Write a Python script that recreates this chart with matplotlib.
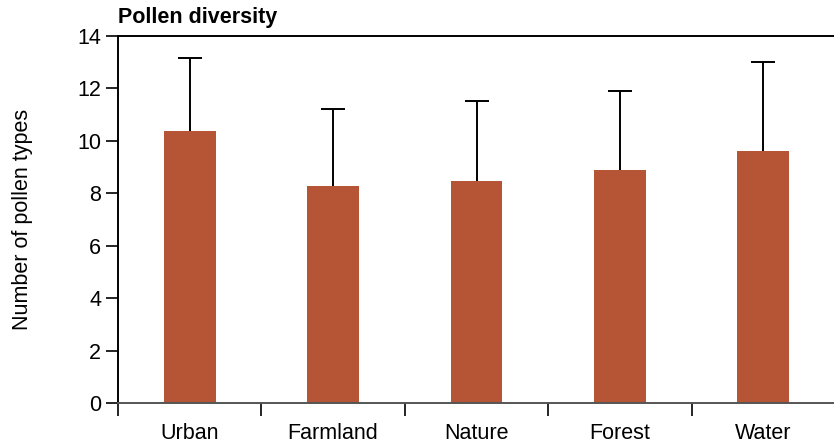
import numpy as np
import matplotlib.pyplot as plt

plt.rcParams['font.family'] = ['Liberation Sans', 'DejaVu Sans']

# mean number of pollen types per land use, and the upper error (sd)
categories = ['Urban', 'Farmland', 'Nature', 'Forest', 'Water']
means = [10.38, 8.28, 8.47, 8.89, 9.62]
errors = [2.78, 2.94, 3.05, 3.01, 3.39]

fig = plt.figure(figsize=(8.34, 4.46), dpi=100)
ax = fig.add_axes([118/834, 1 - 403.3/446, 717/834, (403.3 - 36)/446])

x = np.arange(len(categories))
ax.bar(x, means, width=0.36, color='#B55536', zorder=2)
eb = ax.errorbar(x, means, yerr=[np.zeros(len(errors)), errors], fmt='none',
                 ecolor='black', elinewidth=1.4, capsize=8.5, capthick=1.4, zorder=3)
# only the upper cap is wanted
for cap in eb[1]:
    if np.allclose(cap.get_ydata(), means):
        cap.set_visible(False)

ax.set_xlim(-0.5, len(categories) - 0.5)
ax.set_ylim(0, 14)
ax.set_yticks(range(0, 15, 2))
ax.set_xticks(x)
ax.set_xticklabels(categories, fontsize=15.5)
ax.set_xticks(np.arange(-0.5, len(categories), 1), minor=True)
ax.tick_params(axis='x', which='major', length=0, pad=14)
ax.tick_params(axis='x', which='minor', length=9, width=1.2, color='black')
ax.tick_params(axis='y', labelsize=15.5, length=9, width=1.2, pad=3)

ax.spines['right'].set_visible(False)
ax.spines['top'].set_linewidth(1.4)
ax.spines['left'].set_linewidth(1.4)
ax.spines['bottom'].set_linewidth(1.4)
ax.spines['bottom'].set_color('#555555')

ax.set_ylabel('Number of pollen types', fontsize=15.5)
ax.yaxis.set_label_coords(-0.118, 0.5)
fig.text(118/834, 1 - 18/446, 'Pollen diversity', fontsize=15.5, fontweight='bold',
         ha='left', va='center')

fig.savefig('out.png', dpi=100)
